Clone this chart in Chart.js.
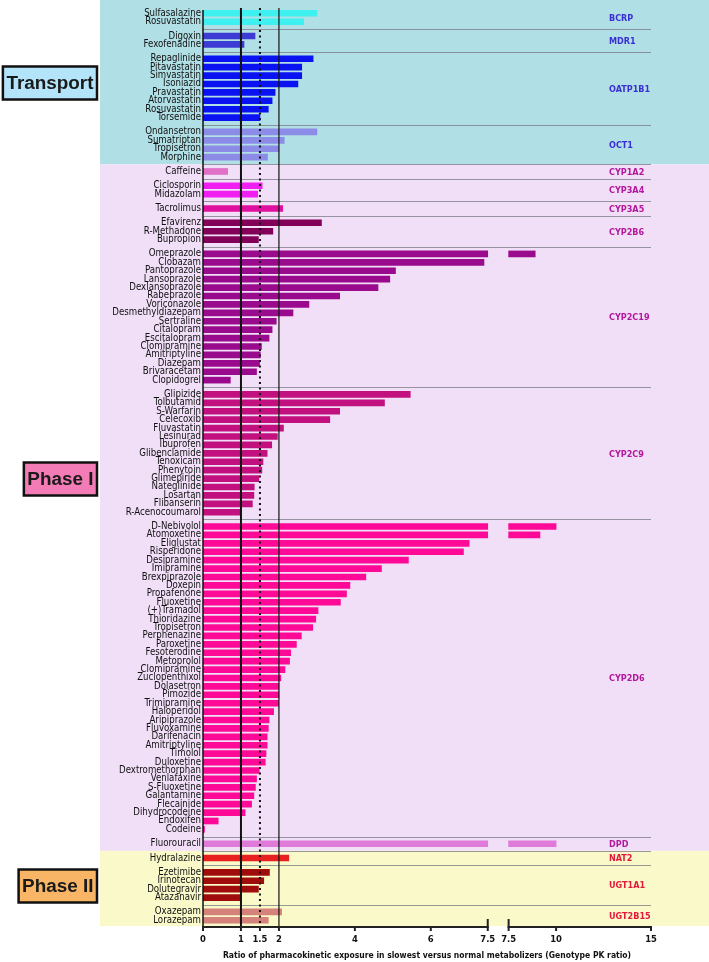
<!DOCTYPE html>
<html>
<head>
<meta charset="utf-8">
<script src="https://cdn.jsdelivr.net/npm/chart.js@4.4.1/dist/chart.umd.min.js"></script>
<style>
html,body{margin:0;padding:0;background:#ffffff;}
canvas{display:block;}
</style>
</head>
<body>
<canvas id="chart" width="709" height="962"></canvas>
<script>
// ---------------- DATA ----------------
const drugs = [
  'Sulfasalazine','Rosuvastatin',
  'Digoxin','Fexofenadine',
  'Repaglinide','Pitavastatin','Simvastatin','Isoniazid','Pravastatin','Atorvastatin','Rosuvastatin','Torsemide',
  'Ondansetron','Sumatriptan','Tropisetron','Morphine',
  'Caffeine',
  'Ciclosporin','Midazolam',
  'Tacrolimus',
  'Efavirenz','R-Methadone','Bupropion',
  'Omeprazole','Clobazam','Pantoprazole','Lansoprazole','Dexlansoprazole','Rabeprazole','Voriconazole','Desmethyldiazepam','Sertraline','Citalopram','Escitalopram','Clomipramine','Amitriptyline','Diazepam','Brivaracetam','Clopidogrel',
  'Glipizide','Tolbutamid','S-Warfarin','Celecoxib','Fluvastatin','Lesinurad','Ibuprofen','Glibenclamide','Tenoxicam','Phenytoin','Glimepiride','Nateglinide','Losartan','Flibanserin','R-Acenocoumarol',
  'D-Nebivolol','Atomoxetine','Eliglustat','Risperidone','Desipramine','Imipramine','Brexpiprazole','Doxepin','Propafenone','Fluoxetine','(+)Tramadol','Thioridazine','Tropisetron','Perphenazine','Paroxetine','Fesoterodine','Metoprolol','Clomipramine','Zuclopenthixol','Dolasetron','Pimozide','Trimipramine','Haloperidol','Aripiprazole','Fluvoxamine','Darifenacin','Amitriptyline','Timolol','Duloxetine','Dextromethorphan','Venlafaxine','S-Fluoxetine','Galantamine','Flecainide','Dihydrocodeine','Endoxifen','Codeine',
  'Fluorouracil',
  'Hydralazine',
  'Ezetimibe','Irinotecan','Dolutegravir','Atazanavir',
  'Oxazepam','Lorazepam'
];
const ratios = [
  3.0, 2.65,
  1.37, 1.08,
  2.9, 2.6, 2.6, 2.5, 1.9, 1.82, 1.72, 1.5,
  3.0, 2.14, 2.0, 1.7,
  0.65,
  1.56, 1.44,
  2.1,
  3.12, 1.84, 1.46,
  8.9, 7.4, 5.07, 4.92, 4.61, 3.6, 2.79, 2.37, 1.93, 1.82, 1.74, 1.54, 1.51, 1.49, 1.41, 0.72,
  5.46, 4.78, 3.6, 3.34, 2.12, 1.96, 1.81, 1.69, 1.58, 1.55, 1.47, 1.35, 1.34, 1.3, 0.98,
  10.0, 9.15, 7.01, 6.86, 5.41, 4.7, 4.29, 3.87, 3.78, 3.62, 3.03, 2.97, 2.89, 2.59, 2.46, 2.31, 2.28, 2.16, 2.05, 2.0, 2.0, 1.99, 1.86, 1.74, 1.72, 1.69, 1.69, 1.66, 1.64, 1.48, 1.41, 1.38, 1.34, 1.28, 1.11, 0.4, 0.04,
  10.0,
  2.26,
  1.75, 1.6, 1.46, 1.01,
  2.07, 1.72
];
const groupNames = ['BCRP','MDR1','OATP1B1','OCT1','CYP1A2','CYP3A4','CYP3A5','CYP2B6','CYP2C19','CYP2C9','CYP2D6','DPD','NAT2','UGT1A1','UGT2B15'];
const groupSizes = [2,2,8,4,1,2,1,3,16,15,37,1,1,4,2];
const phaseNames = ['Transport','Phase I','Phase II'];
const phaseGroupCounts = [4,8,3];
const tickValuesLow = [0,1,1.5,2,4,6,7.5];
const tickValuesHigh = [7.5,10,15];
const refLines = [1,1.5,2];
const xTitle = 'Ratio of pharmacokinetic exposure in slowest versus normal metabolizers (Genotype PK ratio)';

// ---------------- STYLE ----------------
const groupColors = ['#3ff0f0','#3c3cd4','#0a12f2','#8c8ce8','#e070c6','#f01ef0','#e0109e','#820057','#9a0a8c','#c2107e','#fe0a96','#e07ad8','#e81f1f','#a00b0b','#d4827a'];
const phaseLabelColors = ['#3a2fd4','#b3189c','#e3193b'];
const phaseBandColors = ['#b0dfe5','#f1dff8','#f9f9ca'];
const phaseBoxColors = ['#b4e4fa','#f47cb6','#f7b565'];
const PHASE_BOX_Y = [83, 479, 886];
const FONT = '"Liberation Sans", Arial, Helvetica, sans-serif';
const FONT_N = '"DejaVu Sans Condensed", "Liberation Sans Narrow", "Liberation Sans", Arial, sans-serif';

// broken axis transform
const BREAK = 7.5, GAP = 0.55, HIGH_SCALE = 0.5, AXIS_MAX = 15;
function disp(v, high) { return high ? BREAK + GAP + (v - BREAK) * HIGH_SCALE : v; }
const GROUP_GAP = 0.70;

const measureCtx = document.createElement('canvas').getContext('2d');
function fitSize(text, target, weight, fam) {
  measureCtx.font = weight + ' 100px ' + fam;
  return Math.round(1000 * target / measureCtx.measureText(text).width) / 10;
}
const LABEL_SIZE = fitSize('Desmethyldiazepam', 89, 'normal', FONT_N);
const GROUP_SIZE = fitSize('OATP1B1', 41, 'bold', FONT_N);
const XTICK_SIZE = fitSize('7.5', 15, 'bold', FONT_N);
const TITLE_SIZE = fitSize(xTitle, 406, 'bold', FONT_N);
const BOX_SIZE = fitSize('Transport', 87, 'bold', FONT);

// row positions
const groupOf = [], pos = [], groupFirst = [], groupLast = [];
(function(){
  let k = 0;
  groupSizes.forEach((n, g) => {
    groupFirst.push(k);
    for (let j = 0; j < n; j++) { groupOf.push(g); pos.push(k + g * GROUP_GAP); k++; }
    groupLast.push(k - 1);
  });
})();
const Y_MIN = pos[0] - 1.58;
const Y_MAX = pos[pos.length - 1] + 0.68;
function sepPos(g) { return (pos[groupLast[g]] + pos[groupFirst[g + 1]]) / 2; }

const xTickDisp = tickValuesLow.map(v => disp(v, false)).concat(tickValuesHigh.map(v => disp(v, true)));
const xTickLabels = tickValuesLow.concat(tickValuesHigh).map(v => String(v));

const lowData = drugs.map((n, i) => ({ x: Math.min(ratios[i], BREAK), y: pos[i], g: groupOf[i] }));
const highData = [];
drugs.forEach((n, i) => {
  if (ratios[i] > BREAK) highData.push({ x: [disp(BREAK, true), disp(ratios[i], true)], y: pos[i], g: groupOf[i] });
});

// ---------------- PLUGIN ----------------
const deco = {
  id: 'deco',
  beforeDraw(chart) {
    const { ctx, chartArea: ca, scales: { y } } = chart;
    ctx.save();
    let gStart = 0;
    phaseGroupCounts.forEach((cnt, p) => {
      const gEnd = gStart + cnt - 1;
      const top = p === 0 ? ca.top : y.getPixelForValue(sepPos(gStart - 1));
      const bot = gEnd === groupSizes.length - 1 ? ca.bottom : y.getPixelForValue(sepPos(gEnd));
      ctx.fillStyle = phaseBandColors[p];
      ctx.fillRect(100, top, chart.width - 100, bot - top);
      ctx.font = 'bold ' + BOX_SIZE + 'px ' + FONT;
      const tw = ctx.measureText(phaseNames[p]).width;
      const bw = tw + 7, bh = 33, right = 97;
      const cy = PHASE_BOX_Y[p];
      ctx.fillStyle = phaseBoxColors[p];
      ctx.fillRect(right - bw, cy - bh / 2, bw, bh);
      ctx.lineWidth = 2.5; ctx.strokeStyle = '#111';
      ctx.strokeRect(right - bw, cy - bh / 2, bw, bh);
      ctx.fillStyle = '#1a1a1a';
      ctx.textAlign = 'center'; ctx.textBaseline = 'middle';
      ctx.fillText(phaseNames[p], right - bw / 2, cy + 1);
      gStart += cnt;
    });
    ctx.restore();
  },
  beforeDatasetsDraw(chart) {
    const { ctx, chartArea: ca, scales: { y } } = chart;
    ctx.save();
    ctx.strokeStyle = 'rgba(120,120,130,0.75)';
    ctx.lineWidth = 1;
    for (let g = 0; g < groupSizes.length - 1; g++) {
      const py = Math.round(y.getPixelForValue(sepPos(g))) + 0.5;
      ctx.beginPath(); ctx.moveTo(ca.left, py); ctx.lineTo(ca.right, py); ctx.stroke();
    }
    ctx.restore();
  },
  afterDatasetsDraw(chart) {
    const { ctx, chartArea: ca, scales: { x } } = chart;
    ctx.save();
    const top = ca.top + 8;
    refLines.forEach((v, i) => {
      const px = x.getPixelForValue(disp(v, false));
      ctx.beginPath();
      ctx.strokeStyle = '#111';
      if (i === 0) { ctx.lineWidth = 2; ctx.setLineDash([]); }
      else if (i === 1) { ctx.lineWidth = 2; ctx.setLineDash([2, 3.5]); }
      else { ctx.lineWidth = 1.2; ctx.setLineDash([]); }
      ctx.moveTo(px, top); ctx.lineTo(px, ca.bottom); ctx.stroke();
    });
    ctx.setLineDash([]);
    ctx.strokeStyle = '#111'; ctx.lineWidth = 1.5;
    ctx.beginPath(); ctx.moveTo(ca.left, top + 2); ctx.lineTo(ca.left, ca.bottom); ctx.stroke();
    const ay = ca.bottom + 1;
    ctx.lineWidth = 2; ctx.strokeStyle = '#222';
    const segs = [[x.getPixelForValue(0), x.getPixelForValue(disp(BREAK, false))],
                  [x.getPixelForValue(disp(BREAK, true)), x.getPixelForValue(disp(AXIS_MAX, true))]];
    segs.forEach(s => { ctx.beginPath(); ctx.moveTo(s[0] - 1, ay); ctx.lineTo(s[1] + 1, ay); ctx.stroke(); });
    xTickDisp.forEach((v, i) => {
      const px = x.getPixelForValue(v);
      const isBreak = (i === tickValuesLow.length - 1) || (i === tickValuesLow.length);
      ctx.beginPath(); ctx.moveTo(px, isBreak ? ay - 8 : ay); ctx.lineTo(px, ay + 4); ctx.stroke();
    });
    ctx.restore();
  },
  afterDraw(chart) {
    const { ctx, chartArea: ca, scales: { y } } = chart;
    ctx.save();
    ctx.font = 'bold ' + GROUP_SIZE + 'px ' + FONT_N;
    ctx.textAlign = 'left'; ctx.textBaseline = 'middle';
    let p = 0, acc = phaseGroupCounts[0];
    groupNames.forEach((name, g) => {
      if (g >= acc) { p++; acc += phaseGroupCounts[p]; }
      const cy = y.getPixelForValue((pos[groupFirst[g]] + pos[groupLast[g]]) / 2);
      ctx.fillStyle = phaseLabelColors[p];
      ctx.fillText(name, ca.right - 42, cy + 1);
    });
    ctx.restore();
  }
};

// ---------------- CHART ----------------
new Chart(document.getElementById('chart').getContext('2d'), {
  type: 'bar',
  data: {
    datasets: [
      { label: 'PK ratio', data: lowData, backgroundColor: c => groupColors[c.raw ? c.raw.g : 0] },
      { label: 'PK ratio (after break)', data: highData, backgroundColor: c => groupColors[c.raw ? c.raw.g : 0] }
    ]
  },
  options: {
    indexAxis: 'y',
    responsive: false,
    animation: false,
    layout: { padding: { left: 0, right: 58, top: 0, bottom: 0 } },
    datasets: { bar: { grouped: false, barThickness: 6, borderWidth: 0 } },
    plugins: { legend: { display: false }, tooltip: { enabled: false } },
    scales: {
      x: {
        type: 'linear', position: 'bottom', min: 0, max: disp(AXIS_MAX, true), offset: false,
        grid: { display: false, drawTicks: false }, border: { display: false },
        afterBuildTicks: s => { s.ticks = xTickDisp.map(v => ({ value: v })); },
        ticks: { autoSkip: false, maxRotation: 0, padding: 8, color: '#111',
                 font: { family: FONT_N, size: XTICK_SIZE, weight: 'bold' },
                 callback: (v, i) => xTickLabels[i] },
        title: { display: true, text: xTitle, color: '#111', padding: { top: 0, bottom: 1 },
                 font: { family: FONT_N, size: TITLE_SIZE, weight: 'bold' } },
        afterFit: s => { s.height = 36; s.paddingLeft = 0; s.paddingRight = 0; }
      },
      y: {
        type: 'linear', reverse: true, min: Y_MIN, max: Y_MAX, offset: false,
        grid: { display: false, drawTicks: false }, border: { display: false },
        afterBuildTicks: s => { s.ticks = pos.map(v => ({ value: v })); },
        ticks: { autoSkip: false, padding: 2, color: '#111',
                 font: { family: FONT_N, size: LABEL_SIZE },
                 callback: (v, i) => drugs[i] },
        afterFit: s => { s.width = 203; s.paddingTop = 0; s.paddingBottom = 0; }
      }
    }
  },
  plugins: [deco]
});
</script>
</body>
</html>
